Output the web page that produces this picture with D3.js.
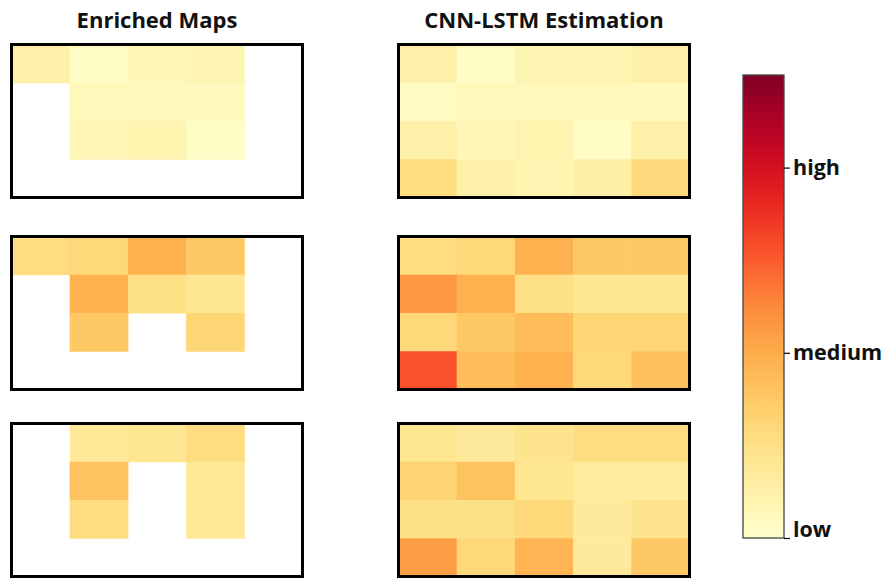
<!DOCTYPE html>
<html>
<head>
<meta charset="utf-8">
<script src="https://cdn.jsdelivr.net/npm/d3@7"></script>
<style>
  body { margin: 0; background: #fff; }
  text { font-family: "Open Sans", "DejaVu Sans", sans-serif; font-weight: bold; fill: #111; }
</style>
</head>
<body>
<div id="chart"></div>
<script>
// column titles
const columnTitles = ["Enriched Maps", "CNN-LSTM Estimation"];
// colorbar tick labels and their positions on the 0..1 scale
const barLabels = ["low", "medium", "high"];
const barTickValues = [0, 0.40, 0.80];

// values on a 0..1 scale, null = no data (white)
const enrichedTop = [
  [0.10, 0.02, 0.06, 0.07, null],
  [null, 0.05, 0.04, 0.04, null],
  [null, 0.06, 0.08, 0.02, null],
  [null, null, null, null, null]
];
const estimateTop = [
  [0.10, 0.02, 0.07, 0.07, 0.10],
  [0.03, 0.05, 0.05, 0.05, 0.04],
  [0.10, 0.06, 0.08, 0.02, 0.10],
  [0.22, 0.10, 0.07, 0.11, 0.23]
];
const enrichedMid = [
  [0.22, 0.24, 0.38, 0.30, null],
  [null, 0.38, 0.20, 0.17, null],
  [null, 0.30, null, 0.25, null],
  [null, null, null, null, null]
];
const estimateMid = [
  [0.22, 0.24, 0.38, 0.30, 0.30],
  [0.46, 0.38, 0.20, 0.17, 0.17],
  [0.24, 0.30, 0.34, 0.25, 0.25],
  [0.62, 0.34, 0.38, 0.24, 0.33]
];
const enrichedBot = [
  [null, 0.15, 0.17, 0.22, null],
  [null, 0.32, null, 0.15, null],
  [null, 0.22, null, 0.15, null],
  [null, null, null, null, null]
];
const estimateBot = [
  [0.17, 0.14, 0.18, 0.22, 0.22],
  [0.26, 0.32, 0.17, 0.13, 0.13],
  [0.20, 0.20, 0.24, 0.14, 0.18],
  [0.44, 0.24, 0.37, 0.14, 0.30]
];

const panels = [
  [enrichedTop, estimateTop],
  [enrichedMid, estimateMid],
  [enrichedBot, estimateBot]
];

const width = 886, height = 578;
const svg = d3.select("#chart").append("svg")
  .attr("width", width)
  .attr("height", height);

const color = d3.scaleSequential(d3.interpolateYlOrRd).domain([0, 1]);

const panelW = 294, panelH = 156;
const colX = [10, 397];
const rowY = [43, 235, 422];

columnTitles.forEach((t, i) => {
  svg.append("text")
    .attr("x", colX[i] + panelW / 2)
    .attr("y", 28)
    .attr("text-anchor", "middle")
    .style("font-size", "22px")
    .text(t);
});

const cols = d3.range(5), rows = d3.range(4);
const x = d3.scaleBand().domain(cols).range([1.5, panelW - 1.5]);
const y = d3.scaleBand().domain(rows).range([1.5, panelH - 1.5]);

panels.forEach((pair, r) => {
  pair.forEach((grid, c) => {
    const g = svg.append("g").attr("transform", `translate(${colX[c]},${rowY[r]})`);
    const cells = [];
    grid.forEach((row, ri) => row.forEach((v, ci) => { if (v !== null) cells.push({ ri, ci, v }); }));
    g.selectAll("rect.cell")
      .data(cells)
      .join("rect")
      .attr("class", "cell")
      .attr("x", d => x(d.ci))
      .attr("y", d => y(d.ri))
      .attr("width", x.bandwidth() + 0.5)
      .attr("height", y.bandwidth() + 0.5)
      .attr("fill", d => color(d.v));
    g.append("rect")
      .attr("x", 1.5).attr("y", 1.5)
      .attr("width", panelW - 3).attr("height", panelH - 3)
      .attr("fill", "none")
      .attr("stroke", "#000")
      .attr("stroke-width", 3);
  });
});

// colorbar
const barX = 743, barW = 41, barTop = 75, barBot = 538;
const defs = svg.append("defs");
const grad = defs.append("linearGradient")
  .attr("id", "ylorrd")
  .attr("x1", 0).attr("y1", 1).attr("x2", 0).attr("y2", 0);
d3.range(0, 1.0001, 0.05).forEach(t => {
  grad.append("stop").attr("offset", t).attr("stop-color", color(t));
});
svg.append("rect")
  .attr("x", barX).attr("y", barTop)
  .attr("width", barW).attr("height", barBot - barTop)
  .attr("fill", "url(#ylorrd)")
  .attr("stroke", "#444")
  .attr("stroke-width", 1.3);

const barScale = d3.scaleLinear().domain([0, 1]).range([barBot, barTop]);
const axis = d3.axisRight(barScale)
  .tickValues(barTickValues)
  .tickFormat((d, i) => barLabels[i])
  .tickSize(6)
  .tickPadding(3);
const ax = svg.append("g")
  .attr("transform", `translate(${barX + barW},0)`)
  .call(axis);
ax.select(".domain").remove();
ax.selectAll(".tick line").attr("stroke", "#000").attr("stroke-width", 1.2);
ax.selectAll(".tick text")
  .style("font-size", "21.5px")
  .style("font-family", "\"Open Sans\", \"DejaVu Sans\", sans-serif")
  .style("font-weight", "bold")
  .attr("fill", "#111")
  .attr("dy", (d, i) => i === 0 ? "-0.05em" : "0.32em");
</script>
</body>
</html>
